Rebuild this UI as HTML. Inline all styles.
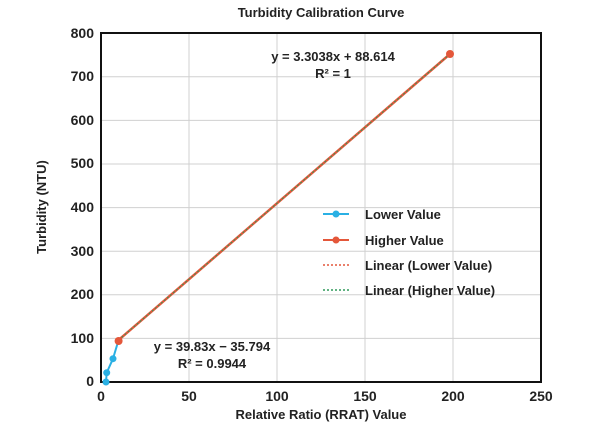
<!DOCTYPE html>
<html><head><style>body{margin:0;background:#fff}</style></head><body>
<svg width="600" height="427" xmlns="http://www.w3.org/2000/svg" font-family="Liberation Sans, sans-serif" font-weight="bold">
<rect width="600" height="427" fill="#fff"/>
<text x="321" y="17" font-size="13" text-anchor="middle" fill="#222">Turbidity Calibration Curve</text>
<g stroke="#d0d0d0" stroke-width="1">
<line x1="189" y1="33" x2="189" y2="382"/><line x1="277" y1="33" x2="277" y2="382"/>
<line x1="365" y1="33" x2="365" y2="382"/><line x1="453" y1="33" x2="453" y2="382"/>
<line x1="101" y1="338.4" x2="541" y2="338.4"/><line x1="101" y1="294.8" x2="541" y2="294.8"/>
<line x1="101" y1="251.2" x2="541" y2="251.2"/><line x1="101" y1="207.6" x2="541" y2="207.6"/>
<line x1="101" y1="164" x2="541" y2="164"/><line x1="101" y1="120.4" x2="541" y2="120.4"/>
<line x1="101" y1="76.8" x2="541" y2="76.8"/>
</g>
<rect x="101" y="33" width="440" height="349" fill="none" stroke="#111" stroke-width="2"/>
<g font-size="14" fill="#222" text-anchor="end">
<text x="94" y="386">0</text><text x="94" y="343">100</text><text x="94" y="299">200</text>
<text x="94" y="256">300</text><text x="94" y="212">400</text><text x="94" y="168">500</text>
<text x="94" y="125">600</text><text x="94" y="81">700</text><text x="94" y="38">800</text>
</g>
<g font-size="14" fill="#222" text-anchor="middle">
<text x="101" y="401">0</text><text x="189" y="401">50</text><text x="277" y="401">100</text>
<text x="365" y="401">150</text><text x="453" y="401">200</text><text x="541" y="401">250</text>
</g>
<text x="321" y="419" font-size="13" text-anchor="middle" fill="#222">Relative Ratio (RRAT) Value</text>
<text transform="translate(46,207) rotate(-90)" font-size="13" text-anchor="middle" fill="#222">Turbidity (NTU)</text>
<polyline points="106,382 106.7,372.7 113,358.7 118.6,340" fill="none" stroke="#2ab0e4" stroke-width="2"/>
<line x1="118.6" y1="340" x2="450" y2="54" stroke="#e4573a" stroke-width="2.5"/>
<line x1="118.6" y1="340" x2="450" y2="54" stroke="#2e9a5a" stroke-width="1" stroke-dasharray="2,2"/>
<g fill="#2ab0e4"><circle cx="106" cy="382" r="3.5"/><circle cx="106.7" cy="372.7" r="3.5"/><circle cx="113" cy="358.7" r="3.5"/></g>
<g fill="#e4573a"><circle cx="118.6" cy="341" r="4"/><circle cx="450" cy="54" r="4"/></g>
<g font-size="13" fill="#222" text-anchor="middle">
<text x="333" y="61">y = 3.3038x + 88.614</text>
<text x="333" y="78">R² = 1</text>
<text x="212" y="351">y = 39.83x − 35.794</text>
<text x="212" y="368">R² = 0.9944</text>
</g>
<g font-size="13" fill="#222">
<line x1="323" y1="214" x2="349" y2="214" stroke="#2ab0e4" stroke-width="2"/><circle cx="336" cy="214" r="3.5" fill="#2ab0e4"/>
<text x="365" y="219">Lower Value</text>
<line x1="323" y1="240" x2="349" y2="240" stroke="#e4573a" stroke-width="2"/><circle cx="336" cy="240" r="3.5" fill="#e4573a"/>
<text x="365" y="245">Higher Value</text>
<line x1="323" y1="265" x2="349" y2="265" stroke="#e4573a" stroke-width="1.5" stroke-dasharray="2,2"/>
<text x="365" y="270">Linear (Lower Value)</text>
<line x1="323" y1="290" x2="349" y2="290" stroke="#2e9a5a" stroke-width="1.5" stroke-dasharray="2,2"/>
<text x="365" y="295">Linear (Higher Value)</text>
</g>
</svg>
</body></html>
